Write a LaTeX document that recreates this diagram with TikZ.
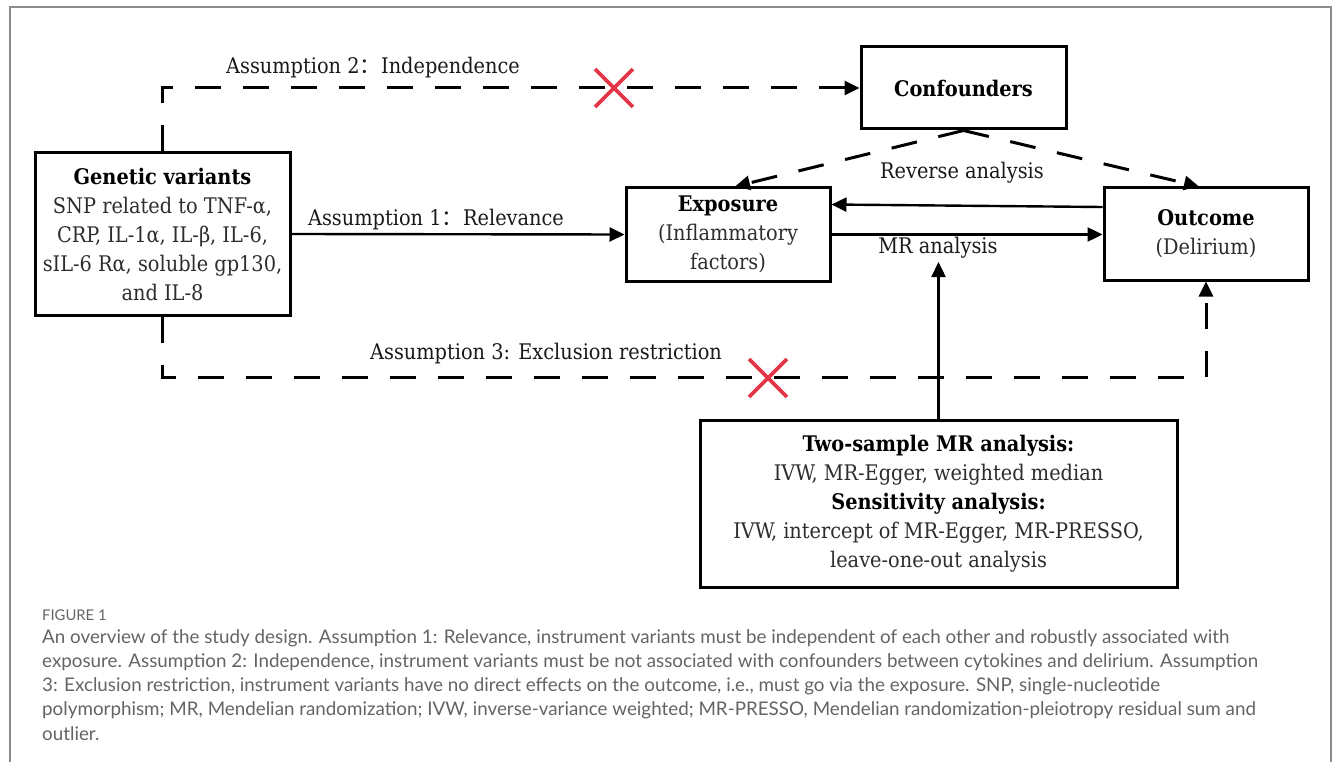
\documentclass[tikz,border=0pt]{standalone}
\usepackage{fontspec}
\setmainfont{DejaVu Serif Condensed}
\newfontfamily\capfont{Lato}
\newfontfamily\cjk{Noto Sans CJK SC}
\usepackage{xcolor}
\usetikzlibrary{positioning,calc,arrows.meta,shapes.misc}
\definecolor{crossred}{RGB}{228,52,72}
\definecolor{framegray}{RGB}{140,140,140}
\definecolor{captiongray}{RGB}{100,100,100}
\definecolor{bodygray}{RGB}{45,45,45}

\begin{document}
\begin{tikzpicture}[x=1pt, y=-1pt,
    box/.style={draw, line width=3pt, inner sep=0pt, align=center, text=bodygray,
        font=\fontsize{21.5}{29}\selectfont},
    lbl/.style={inner sep=0pt, text=black!90, font=\fontsize{21.5}{29}\selectfont},
    arr/.style={line width=2.4pt, -{Triangle[length=15pt,width=14pt]}},
    dasharr/.style={arr, line width=3pt, dash pattern=on 26pt off 22pt},
    redcross/.style={cross out, draw=crossred, line width=3.8pt, minimum size=34pt, inner sep=0pt}]
    \useasboundingbox (0,0) rectangle (1333,762);

    % Frame
    \draw [framegray, line width=2pt] (10,762) -- (10,7) -- (1331,7) -- (1331,762);

    % Boxes
    \node [box, minimum width=255, minimum height=162] (gen) at (162.5,234)
        {\textbf{\color{black}Genetic variants}\\SNP related to TNF-α,\\CRP, IL-1α, IL-β, IL-6,\\sIL-6 Rα, soluble gp130,\\and IL-8};
    \node [box, minimum width=205, minimum height=82] (conf) at (963.5,88)
        {\textbf{\color{black}Confounders}};
    \node [box, minimum width=204, minimum height=93] (expo) at (728,234.5)
        {\textbf{\color{black}Exposure}\\(Inflammatory\\factors)};
    \node [box, minimum width=204, minimum height=92] (outc) at (1206,234)
        {\textbf{\color{black}Outcome}\\(Delirium)};
    \node [box, minimum width=477, minimum height=167] (twos) at (938.5,503.5)
        {\textbf{\color{black}Two-sample MR analysis:}\\IVW, MR-Egger, weighted median\\
         \textbf{\color{black}Sensitivity analysis:}\\IVW, intercept of MR-Egger, MR-PRESSO,\\leave-one-out analysis};

    % Labels
    \node [lbl] (a2) at (373,68) {Assumption 2{\cjk ：}Independence};
    \node [lbl] (a1) at (436,220) {Assumption 1{\cjk ：}Relevance};
    \node [lbl] (a3) at (546,354) {Assumption 3: Exclusion restriction};
    \node [lbl] (rev) at (962,173) {Reverse analysis};
    \node [lbl] (mrl) at (938,248) {MR analysis};
    \coordinate (mrtip) at (938.5,262);

    % Solid arrows
    \draw [arr] (gen.east) -- (expo.west);
    \draw [arr] (expo.east) -- (outc.west |- expo.east);
    \draw [arr] ([yshift=27pt]outc.west) -- ([yshift=30pt]expo.east);
    \draw [arr] (twos.north) -- (mrtip);

    % Dashed arrows
    \draw [dasharr] (gen.north) |- (conf.west);
    \draw [dasharr] (gen.south) |- (outc.south |- 0,377) -- (outc.south);
    \draw [dasharr] (conf.south) -- ([xshift=7pt]expo.north);
    \draw [dasharr] (conf.south) -- ([xshift=-7pt]outc.north);

    % Crosses
    \node [redcross] (x2) at (614,88) {};
    \node [redcross] (x3) at (768,378) {};

    % Caption
    \node [anchor=west, inner sep=0pt, text=captiongray, font=\capfont\fontsize{14.8}{16}\selectfont] (fig) at (42,615) {FIGURE 1};
    \node [anchor=north west, inner sep=0pt, align=left, text=captiongray,
        font=\capfont\fontsize{18.8}{24.3}\selectfont] (cap) at (42,629)
        {An overview of the study design. Assumption 1: Relevance, instrument variants must be independent of each other and robustly associated with\\
         exposure. Assumption 2: Independence, instrument variants must be not associated with confounders between cytokines and delirium. Assumption\\
         3: Exclusion restriction, instrument variants have no direct effects on the outcome, i.e., must go via the exposure. SNP, single-nucleotide\\
         polymorphism; MR, Mendelian randomization; IVW, inverse-variance weighted; MR-PRESSO, Mendelian randomization-pleiotropy residual sum and\\
         outlier.};
\end{tikzpicture}
\end{document}
